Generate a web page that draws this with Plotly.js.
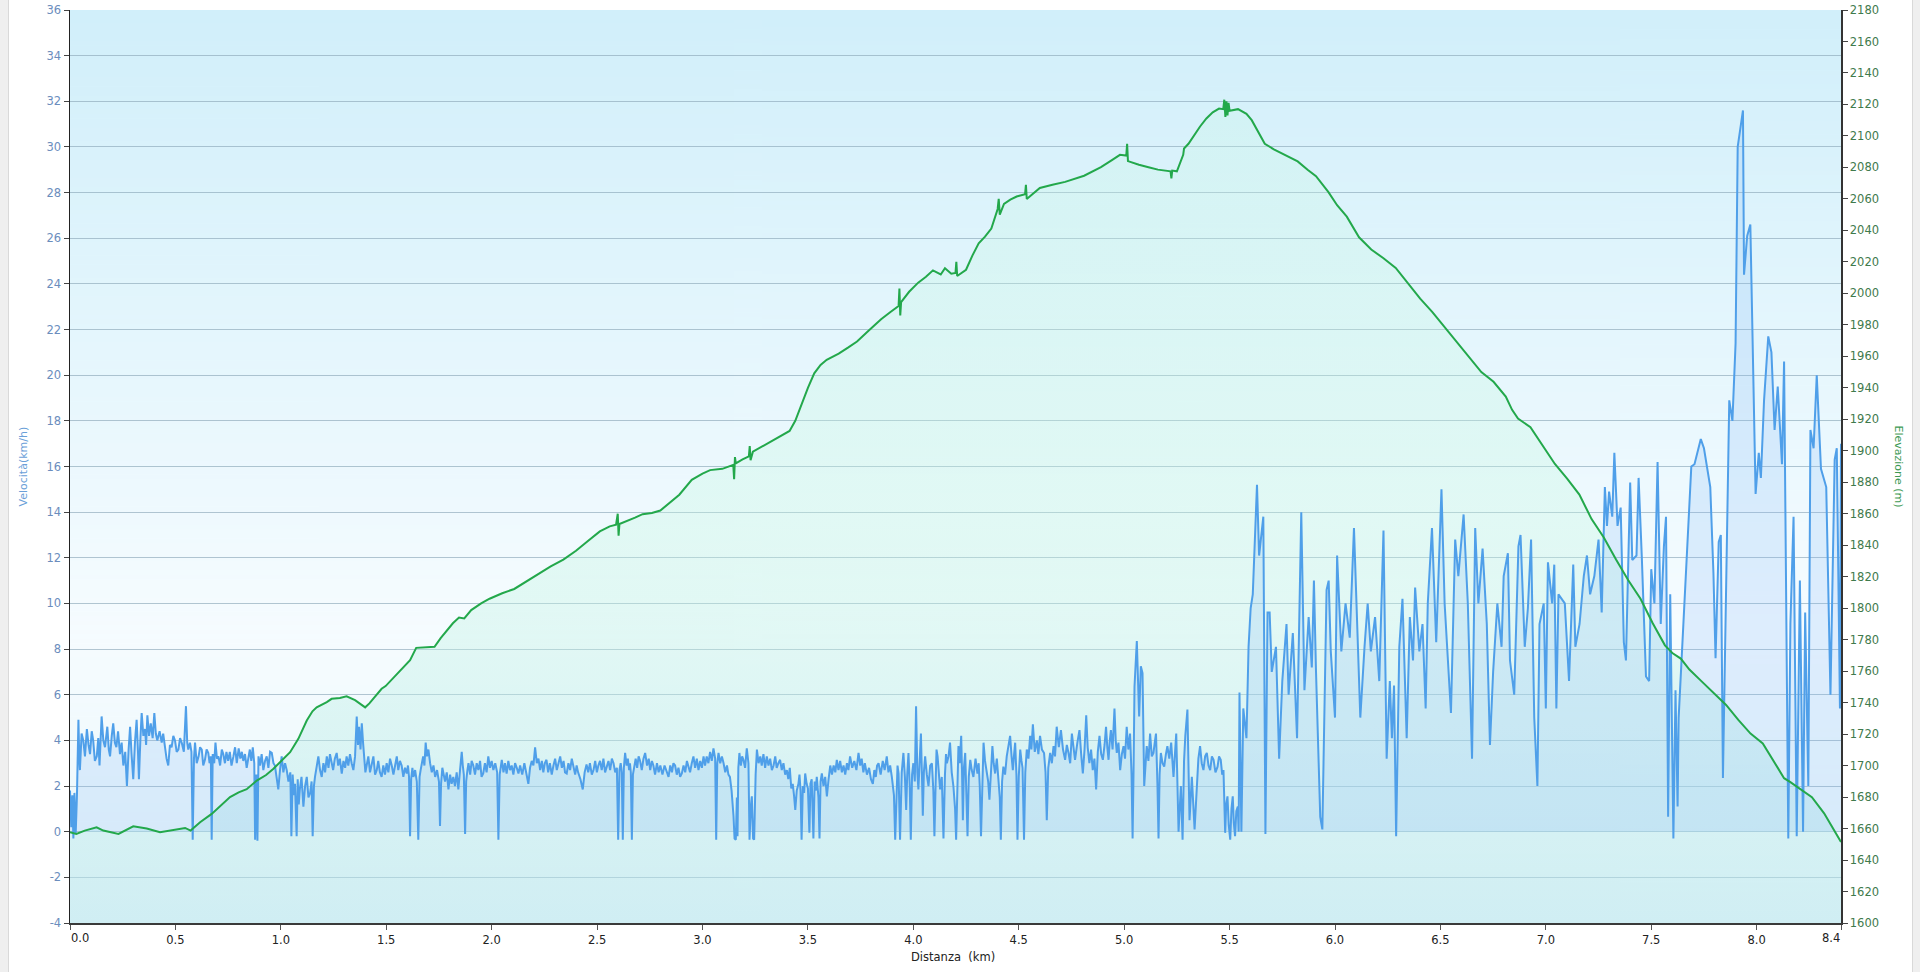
<!DOCTYPE html>
<html>
<head>
<meta charset="utf-8">
<script src="https://cdn.plot.ly/plotly-3.0.1.min.js"></script>
<style>
html,body{margin:0;padding:0;background:#efefef;width:1920px;height:972px;overflow:hidden;}
#frame{position:absolute;left:8px;top:0;width:1903px;height:972px;background:#fff;border-left:1px solid #d9d9d9;border-right:1px solid #d9d9d9;}
#chart{position:absolute;left:0;top:0;width:1920px;height:972px;}
</style>
</head>
<body>
<div id="frame"></div>
<div id="chart"></div>
<script>
// ---- data: [distance km, speed km/h] ----
const speedSamples = [
[0.000,1.8],[0.006,0.2],[0.011,1.6],[0.016,-0.3],[0.021,1.7],[0.027,-0.1],[0.033,1.6],
[0.040,4.9],[0.044,3.2],[0.047,2.7],[0.055,4.3],[0.063,4.0],[0.071,3.3],[0.080,4.5],[0.088,3.8],[0.095,3.4],[0.103,4.4],[0.110,4.0],[0.118,3.1],[0.127,3.3],[0.134,4.1],[0.140,2.9],[0.150,5.05],[0.158,4.0],[0.166,3.7],[0.172,4.3],[0.177,4.6],[0.184,3.6],[0.190,3.3],[0.198,4.2],[0.205,4.75],[0.213,3.9],[0.220,3.7],[0.228,4.4],[0.237,3.4],[0.245,3.9],[0.253,2.9],[0.262,3.5],[0.270,2.0],[0.278,3.6],[0.285,4.6],[0.292,3.4],[0.300,2.3],[0.308,3.9],[0.316,4.9],[0.322,3.6],[0.327,2.3],[0.334,4.1],[0.340,5.2],[0.348,4.2],[0.356,4.5],[0.361,3.8],[0.367,5.1],[0.375,4.2],[0.383,4.75],[0.392,4.1],[0.400,5.2],[0.407,4.3],[0.414,4.0],[0.425,4.4],[0.435,3.9],[0.442,4.3],[0.450,3.65],[0.458,3.2],[0.466,2.9],[0.474,3.8],[0.482,3.7],[0.490,4.2],[0.498,4.0],[0.506,3.5],[0.514,3.6],[0.522,4.1],[0.530,3.9],[0.540,3.5],[0.550,5.5],[0.556,3.9],[0.561,3.6],[0.569,3.9],[0.576,3.5],[0.582,-0.35],[0.588,3.2],
[0.593,3.9],[0.601,3.0],[0.610,3.3],[0.617,3.7],[0.625,3.6],[0.632,2.9],[0.640,3.15],[0.648,3.6],[0.656,3.45],[0.662,3.0],[0.668,3.3],[0.672,-0.35],[0.677,3.4],[0.684,3.0],[0.690,3.9],[0.697,3.2],[0.704,3.3],[0.712,2.9],[0.720,3.6],[0.727,3.4],[0.735,3.0],[0.742,3.5],[0.750,3.1],[0.758,3.5],[0.766,2.9],[0.775,3.3],[0.783,3.7],[0.791,3.0],[0.800,3.65],[0.808,3.2],[0.815,3.5],[0.822,3.1],[0.830,3.4],[0.838,2.8],[0.846,3.2],[0.853,3.6],[0.860,3.1],[0.867,3.7],[0.874,3.0],[0.878,-0.35],[0.884,2.5],[0.889,-0.4],[0.894,3.3],[0.901,2.9],[0.909,3.4],[0.917,2.7],[0.925,3.1],[0.933,3.3],[0.941,2.8],[0.949,3.5],[0.957,3.45],[0.965,3.0],[0.972,2.9],[0.980,2.3],[0.988,1.85],[0.996,2.7],
[1.004,3.3],[1.012,2.6],[1.020,3.0],[1.028,2.7],[1.036,2.2],[1.045,2.6],[1.050,-0.2],[1.056,2.5],[1.062,1.6],[1.067,2.1],[1.071,0.9],[1.075,-0.2],[1.080,2.3],[1.085,1.2],[1.090,1.85],[1.098,2.4],[1.107,1.1],[1.115,2.0],[1.123,2.4],[1.131,1.5],[1.139,1.7],[1.146,2.2],[1.151,-0.2],[1.157,2.0],[1.162,2.4],[1.170,2.9],[1.178,3.3],[1.186,2.7],[1.194,2.4],[1.202,3.0],[1.210,2.6],[1.218,3.3],[1.226,2.8],[1.233,3.4],[1.240,3.1],[1.248,2.7],[1.256,3.2],[1.265,3.45],[1.272,2.9],[1.280,3.2],[1.289,2.55],[1.297,3.1],[1.305,2.8],[1.312,3.3],[1.320,2.9],[1.328,3.4],[1.336,3.0],[1.344,2.7],[1.352,3.3],[1.360,5.05],[1.366,3.8],[1.371,4.6],[1.378,3.6],[1.384,4.75],[1.390,3.9],[1.395,3.3],[1.401,2.6],[1.407,2.9],[1.415,3.3],[1.423,2.6],[1.431,3.0],[1.439,3.3],[1.447,2.5],[1.455,2.7],[1.462,3.1],[1.470,2.6],[1.478,2.4],[1.486,2.9],[1.494,2.5],
[1.502,3.0],[1.510,2.6],[1.518,3.2],[1.526,2.9],[1.534,2.5],[1.542,2.9],[1.550,3.3],[1.557,2.7],[1.565,3.1],[1.573,2.9],[1.581,2.4],[1.589,2.8],[1.597,2.55],[1.603,2.9],[1.608,2.4],[1.613,-0.2],[1.618,2.3],[1.624,2.8],[1.629,2.4],[1.637,2.7],[1.645,2.2],[1.652,-0.35],[1.658,2.4],[1.663,2.7],[1.668,3.0],[1.675,3.3],[1.681,2.9],[1.687,3.9],[1.693,3.3],[1.700,3.6],[1.708,3.0],[1.716,2.6],[1.724,2.9],[1.732,2.4],[1.741,2.7],[1.750,2.2],[1.755,0.25],[1.760,2.1],[1.766,2.8],[1.771,2.55],[1.779,2.2],[1.787,2.6],[1.795,1.85],[1.803,2.5],[1.810,2.1],[1.818,2.4],[1.826,2.0],[1.834,2.6],[1.842,1.85],[1.850,2.7],[1.858,3.5],[1.863,2.9],[1.868,2.5],[1.874,-0.1],[1.879,2.2],[1.885,2.7],[1.890,3.0],[1.898,2.5],[1.905,3.1],[1.913,2.9],[1.921,2.5],[1.929,3.0],[1.937,2.7],[1.945,3.1],[1.952,2.4],[1.960,2.55],[1.968,3.0],[1.976,2.6],[1.984,3.3],[1.992,2.8],
[2.000,3.1],[2.008,2.7],[2.017,3.0],[2.026,2.6],[2.032,-0.35],[2.038,2.5],[2.043,2.9],[2.048,3.15],[2.056,2.6],[2.063,3.0],[2.071,2.55],[2.079,3.1],[2.087,2.7],[2.095,2.9],[2.103,2.5],[2.111,3.0],[2.119,2.8],[2.127,2.55],[2.135,2.9],[2.145,2.5],[2.155,3.0],[2.164,2.6],[2.174,2.1],[2.182,2.8],[2.190,3.1],[2.198,2.9],[2.206,3.7],[2.214,3.0],[2.222,3.2],[2.230,2.7],[2.238,3.1],[2.245,2.6],[2.252,3.0],[2.260,3.15],[2.268,2.6],[2.276,3.0],[2.285,2.5],[2.293,2.9],[2.301,3.2],[2.309,2.7],[2.317,3.0],[2.325,3.3],[2.333,2.8],[2.341,3.1],[2.348,2.6],[2.356,2.55],[2.364,3.0],[2.372,2.7],[2.380,3.2],[2.388,2.9],[2.396,2.5],[2.403,2.9],[2.410,2.6],[2.421,2.3],[2.432,1.85],[2.441,2.6],[2.450,2.95],[2.458,2.6],[2.466,3.0],[2.475,2.5],[2.483,2.7],[2.491,3.1],[2.499,2.6],
[2.506,2.9],[2.514,3.1],[2.522,2.7],[2.530,3.2],[2.538,2.6],[2.546,2.9],[2.554,3.1],[2.562,2.7],[2.570,3.2],[2.578,3.0],[2.586,2.6],[2.594,2.8],[2.600,-0.35],[2.606,2.7],[2.612,3.0],[2.617,2.6],[2.622,-0.35],[2.627,2.8],[2.633,3.45],[2.640,2.9],[2.646,3.2],[2.652,2.7],[2.656,3.0],[2.660,2.6],[2.665,-0.35],[2.670,2.5],[2.676,2.9],[2.683,3.2],[2.690,2.8],[2.697,3.3],[2.704,3.1],[2.712,2.7],[2.720,3.2],[2.728,3.45],[2.737,2.9],[2.745,3.2],[2.752,2.7],[2.760,3.1],[2.767,2.9],[2.775,2.5],[2.784,3.0],[2.792,2.6],[2.800,2.9],[2.810,2.5],[2.820,2.9],[2.830,2.6],[2.839,2.4],[2.847,2.9],[2.855,2.6],[2.862,3.0],[2.870,2.9],[2.878,2.5],[2.886,2.8],[2.894,2.4],[2.902,2.55],[2.910,2.9],[2.918,2.6],[2.926,3.1],[2.933,2.9],[2.941,2.6],[2.949,3.0],[2.957,3.3],[2.965,2.8],[2.973,3.2],[2.981,2.7],[2.989,3.1],[2.997,2.8],
[3.005,3.3],[3.012,2.9],[3.020,3.3],[3.028,3.0],[3.036,3.5],[3.044,3.1],[3.052,3.65],[3.060,3.2],[3.065,-0.35],[3.070,3.0],[3.076,3.45],[3.084,3.0],[3.092,3.3],[3.100,3.0],[3.108,2.6],[3.116,2.9],[3.123,2.5],[3.130,2.4],[3.138,1.8],[3.147,0.7],[3.152,-0.3],[3.158,-0.35],[3.163,1.5],[3.166,-0.2],[3.170,2.8],[3.175,3.45],[3.182,2.9],[3.188,3.3],[3.194,3.15],[3.202,2.8],[3.210,3.65],[3.218,3.0],[3.223,-0.35],[3.230,1.2],[3.234,1.55],[3.240,-0.3],[3.245,-0.35],[3.252,2.5],[3.258,3.6],[3.266,3.0],[3.274,3.3],[3.281,2.9],[3.289,3.4],[3.297,2.8],[3.305,3.3],[3.313,2.9],[3.321,3.2],[3.329,2.7],[3.337,2.9],[3.345,3.3],[3.352,2.8],[3.360,3.0],[3.368,3.15],[3.376,2.7],[3.384,3.0],[3.392,2.5],[3.400,2.7],[3.407,2.3],[3.414,2.8],[3.421,1.9],[3.428,2.1],[3.434,1.6],[3.440,0.95],[3.447,1.8],[3.455,2.1],[3.460,2.5],[3.465,1.8],[3.470,-0.35],[3.476,2.0],[3.482,1.7],[3.487,2.55],[3.494,2.1],
[3.500,1.9],[3.507,-0.05],[3.512,2.1],[3.518,2.3],[3.522,1.0],[3.526,-0.3],[3.532,2.2],[3.537,1.8],[3.542,2.4],[3.546,2.0],[3.550,1.5],[3.555,-0.3],[3.560,2.2],[3.566,2.55],[3.574,2.0],[3.582,2.4],[3.590,1.55],[3.598,2.3],[3.606,2.9],[3.614,2.5],[3.622,2.9],[3.630,2.6],[3.637,3.15],[3.645,2.7],[3.653,3.1],[3.661,2.6],[3.669,2.9],[3.677,2.5],[3.685,3.0],[3.692,2.7],[3.700,3.3],[3.710,2.8],[3.720,3.1],[3.730,2.7],[3.740,3.45],[3.748,2.9],[3.755,3.2],[3.763,2.6],[3.770,3.0],[3.780,2.5],[3.790,2.8],[3.799,2.3],[3.808,2.1],[3.815,2.7],[3.822,2.4],[3.828,2.9],[3.835,3.0],[3.845,2.5],[3.855,3.1],[3.864,2.7],[3.874,3.3],[3.882,2.6],[3.890,2.9],[3.898,2.4],[3.908,1.6],[3.914,-0.35],[3.920,2.0],[3.925,2.9],[3.930,2.55],[3.934,1.2],[3.937,-0.35],[3.945,2.6],[3.953,3.45],[3.960,2.4],[3.966,0.95],[3.971,2.5],[3.977,3.45],[3.983,2.0],[3.988,-0.35],[3.994,2.5],
[4.000,3.0],[4.007,2.2],[4.013,5.5],[4.019,2.6],[4.024,1.85],[4.030,3.1],[4.036,4.3],[4.041,2.4],[4.045,0.7],[4.050,2.6],[4.056,3.3],[4.064,2.5],[4.072,2.0],[4.080,2.9],[4.088,3.0],[4.095,1.8],[4.100,-0.2],[4.106,2.2],[4.110,3.6],[4.115,3.3],[4.121,2.4],[4.127,1.85],[4.135,2.4],[4.143,-0.3],[4.150,2.5],[4.155,3.4],[4.159,3.0],[4.167,3.3],[4.174,3.9],[4.182,2.6],[4.190,2.0],[4.198,1.0],[4.203,-0.35],[4.209,2.8],[4.214,3.75],[4.220,3.0],[4.227,4.2],[4.231,2.6],[4.235,0.5],[4.240,2.8],[4.246,3.45],[4.252,1.5],[4.257,-0.2],[4.263,2.4],[4.270,3.15],[4.277,2.7],[4.285,2.4],[4.295,3.2],[4.304,2.55],[4.310,3.0],[4.315,2.0],[4.321,-0.2],[4.327,2.6],[4.333,3.9],[4.340,3.1],[4.348,2.7],[4.355,2.2],[4.361,1.4],[4.368,2.8],[4.375,3.75],[4.381,3.0],[4.388,2.55],[4.396,3.2],[4.404,2.3],[4.410,1.5],[4.415,-0.35],[4.421,2.2],[4.427,2.85],[4.435,2.5],[4.443,3.3],[4.451,3.7],[4.459,4.2],[4.466,3.3],[4.472,2.7],[4.478,3.4],[4.483,3.9],[4.489,2.5],[4.494,-0.35],
[4.500,2.4],[4.507,3.6],[4.513,3.1],[4.518,2.8],[4.525,-0.35],[4.531,2.6],[4.538,3.6],[4.546,3.2],[4.554,4.2],[4.560,3.6],[4.567,4.7],[4.576,3.5],[4.586,4.0],[4.593,3.4],[4.601,4.2],[4.610,3.6],[4.620,3.45],[4.627,2.6],[4.633,0.5],[4.640,2.8],[4.649,3.45],[4.657,3.0],[4.665,3.75],[4.672,3.3],[4.680,4.6],[4.690,3.7],[4.700,4.45],[4.710,3.6],[4.720,3.15],[4.728,3.8],[4.736,3.45],[4.744,3.0],[4.752,4.3],[4.760,3.5],[4.767,3.15],[4.778,3.9],[4.788,4.45],[4.796,3.4],[4.804,2.55],[4.812,3.6],[4.820,5.1],[4.827,3.7],[4.835,3.0],[4.843,3.6],[4.851,2.7],[4.859,3.2],[4.867,1.85],[4.875,3.5],[4.883,4.2],[4.891,3.4],[4.899,3.15],[4.907,3.8],[4.914,4.6],[4.920,3.7],[4.926,3.15],[4.931,3.9],[4.937,4.45],[4.945,3.6],[4.954,5.4],[4.960,4.0],[4.965,3.45],[4.973,3.9],[4.981,2.7],[4.989,3.4],[4.997,3.75],
[5.004,3.2],[5.012,4.6],[5.020,3.6],[5.028,4.3],[5.035,2.5],[5.040,-0.3],[5.045,3.0],[5.049,6.35],[5.060,8.35],[5.071,5.05],[5.079,7.25],[5.087,6.95],[5.095,2.0],[5.101,3.2],[5.107,3.75],[5.115,3.1],[5.123,4.3],[5.131,3.3],[5.139,3.45],[5.145,3.9],[5.151,4.3],[5.158,2.0],[5.163,-0.3],[5.168,2.5],[5.174,3.45],[5.182,3.0],[5.190,2.85],[5.198,3.4],[5.205,3.75],[5.214,3.2],[5.223,3.9],[5.234,2.4],[5.240,3.3],[5.247,4.3],[5.258,0.0],[5.269,2.0],[5.277,-0.35],[5.284,3.1],[5.290,4.2],[5.300,5.35],[5.310,0.5],[5.321,2.4],[5.334,0.1],[5.345,2.3],[5.352,3.2],[5.360,3.75],[5.368,3.0],[5.376,2.7],[5.384,3.3],[5.392,3.45],[5.400,2.9],[5.408,2.7],[5.416,3.3],[5.424,3.15],[5.433,2.6],[5.443,2.85],[5.450,3.3],[5.458,3.15],[5.465,2.5],[5.471,2.7],[5.479,-0.05],[5.484,1.2],[5.490,1.55],[5.496,0.3],[5.503,-0.35],[5.509,1.0],[5.515,1.55],[5.520,0.4],[5.526,-0.2],[5.532,0.9],[5.539,1.1],[5.543,0.0],[5.547,6.1],
[5.556,0.0],[5.565,5.4],[5.580,4.1],[5.590,8.1],[5.600,9.8],[5.610,10.4],[5.630,15.2],[5.640,12.1],[5.660,13.8],[5.670,-0.1],[5.680,9.6],[5.690,9.6],[5.700,7.0],[5.720,8.1],[5.735,3.2],[5.750,6.6],[5.770,9.1],[5.780,6.0],[5.800,8.7],[5.820,4.1],[5.840,14.0],[5.855,6.2],[5.875,9.4],[5.890,7.2],[5.900,11.0],[5.910,7.0],[5.930,0.65],[5.940,0.1],[5.960,10.6],[5.970,11.0],[5.980,7.9],
[6.000,5.0],[6.010,12.1],[6.030,7.9],[6.050,10.0],[6.070,8.5],[6.090,13.3],[6.120,5.0],[6.140,8.1],[6.155,10.0],[6.170,7.9],[6.190,9.4],[6.210,6.6],[6.230,13.2],[6.245,3.2],[6.260,6.6],[6.270,4.1],[6.280,6.4],[6.290,-0.2],[6.305,8.1],[6.320,10.2],[6.340,4.1],[6.355,9.4],[6.370,7.5],[6.380,10.7],[6.400,7.9],[6.415,9.1],[6.430,5.4],[6.440,10.0],[6.460,13.3],[6.480,8.3],[6.505,15.0],[6.520,10.0],[6.550,5.2],[6.570,12.8],[6.585,11.2],[6.610,13.9],[6.630,10.0],[6.650,3.2],[6.665,13.3],[6.680,10.0],[6.700,12.4],[6.720,9.1],[6.735,3.8],[6.750,7.0],[6.770,10.0],[6.790,8.1],[6.800,11.2],[6.820,12.2],[6.830,7.5],[6.850,6.0],[6.870,12.5],[6.880,13.0],[6.900,8.1],[6.915,9.8],[6.930,12.8],[6.945,5.0],[6.960,2.0],[6.970,9.1],[6.990,10.0],
[7.000,5.4],[7.010,11.8],[7.030,10.0],[7.040,11.7],[7.050,5.4],[7.060,10.4],[7.090,10.0],[7.110,6.6],[7.130,11.7],[7.140,8.1],[7.160,9.1],[7.180,11.2],[7.195,12.1],[7.210,10.4],[7.230,11.2],[7.250,12.8],[7.265,9.6],[7.280,15.1],[7.290,13.4],[7.300,14.9],[7.315,13.8],[7.325,16.6],[7.340,13.4],[7.355,14.2],[7.370,8.3],[7.380,7.5],[7.400,15.3],[7.410,11.9],[7.430,12.1],[7.440,15.5],[7.455,12.1],[7.475,6.8],[7.490,6.6],[7.500,11.5],[7.515,10.0],[7.530,16.2],[7.545,9.1],[7.560,12.5],[7.570,13.8],[7.580,0.65],[7.590,10.4],[7.605,-0.3],[7.615,6.2],[7.625,1.1],[7.630,5.0],[7.650,8.9],[7.670,12.7],[7.690,16.0],[7.705,16.1],[7.735,17.2],[7.750,16.8],[7.780,15.1],[7.795,11.3],[7.805,7.6],[7.820,12.7],[7.830,13.0],[7.840,2.35],[7.855,10.8],[7.870,18.9],[7.885,18.0],[7.900,21.4],[7.910,30.0],[7.935,31.6],[7.940,24.4],[7.955,26.1],[7.970,26.6],[7.980,21.4],[7.995,14.8],
[8.010,16.6],[8.020,15.5],[8.035,18.9],[8.055,21.7],[8.070,21.0],[8.085,17.6],[8.100,19.5],[8.120,16.1],[8.130,20.6],[8.140,9.1],[8.150,-0.3],[8.160,9.1],[8.175,13.8],[8.190,-0.2],[8.205,11.0],[8.220,0.0],[8.230,9.6],[8.245,2.0],[8.255,17.6],[8.270,16.8],[8.285,20.0],[8.305,15.9],[8.330,15.1],[8.350,6.0],[8.370,16.3],[8.380,16.8],[8.395,5.4],[8.400,17.0]
];

// ---- [distance km, elevation m] ----
const elevSamples = [
[0.000,1657.7],[0.030,1656.6],[0.070,1658.7],[0.126,1660.8],[0.158,1658.7],[0.230,1656.6],[0.300,1661.4],[0.364,1660.0],[0.427,1657.7],[0.506,1659.8],[0.546,1660.4],[0.572,1658.7],[0.617,1664.0],[0.672,1669.3],[0.720,1675.0],[0.759,1680.0],[0.800,1683.0],[0.838,1685.0],[0.886,1690.5],[0.930,1694.0],[0.965,1698.0],[1.005,1703.0],[1.044,1708.5],[1.083,1717.0],[1.123,1728.6],[1.150,1734.5],[1.170,1737.0],[1.218,1740.3],[1.241,1742.4],[1.280,1743.0],[1.312,1744.0],[1.352,1741.6],[1.400,1737.0],[1.420,1739.5],[1.439,1742.4],[1.478,1748.8],[1.497,1750.5],[1.555,1758.5],[1.613,1767.0],[1.642,1774.8],[1.690,1775.0],[1.729,1775.5],[1.758,1781.0],[1.816,1790.4],[1.845,1794.0],[1.870,1793.5],[1.903,1798.8],[1.950,1803.0],[1.990,1806.0],
[2.050,1809.5],[2.107,1812.2],[2.165,1817.0],[2.223,1821.5],[2.280,1826.5],[2.340,1830.8],[2.400,1836.5],[2.455,1842.5],[2.513,1848.8],[2.560,1852.0],[2.590,1853.0],[2.598,1860.0],[2.602,1846.0],[2.606,1853.5],[2.637,1855.0],[2.680,1857.5],[2.716,1859.7],[2.760,1860.5],[2.800,1862.0],[2.850,1867.5],[2.890,1872.1],[2.949,1881.5],[3.000,1885.5],[3.036,1887.7],[3.094,1888.5],[3.146,1891.0],[3.150,1882.0],[3.154,1896.0],[3.158,1892.0],[3.190,1894.5],[3.220,1896.5],[3.224,1903.0],[3.228,1894.0],[3.239,1899.4],[3.280,1902.5],[3.326,1905.6],[3.370,1909.0],[3.413,1912.6],[3.440,1919.0],[3.471,1930.5],[3.500,1940.0],[3.530,1949.2],[3.560,1954.5],[3.589,1957.8],[3.646,1961.7],[3.690,1965.5],[3.733,1969.4],[3.790,1976.5],[3.847,1983.5],[3.890,1988.0],[3.930,1992.0],[3.934,2003.0],[3.938,1986.0],[3.942,1994.4],[3.980,2001.0],
[4.023,2006.8],[4.060,2010.5],[4.093,2014.6],[4.130,2012.0],[4.150,2016.0],[4.180,2012.5],[4.200,2013.0],[4.204,2020.0],[4.208,2011.0],[4.250,2015.0],[4.280,2024.0],[4.310,2031.8],[4.340,2036.0],[4.370,2041.2],[4.400,2053.6],[4.405,2060.0],[4.410,2050.0],[4.430,2056.8],[4.460,2059.5],[4.490,2061.5],[4.530,2063.0],[4.534,2069.0],[4.538,2060.0],[4.600,2066.9],[4.660,2069.0],[4.720,2070.8],[4.810,2074.7],[4.890,2080.2],[4.940,2084.5],[4.980,2088.0],[5.010,2087.5],[5.014,2095.0],[5.018,2084.0],[5.070,2081.7],[5.120,2080.0],[5.160,2078.6],[5.220,2077.5],[5.224,2073.0],[5.228,2078.0],[5.250,2077.5],[5.280,2088.0],[5.284,2092.0],[5.305,2095.0],[5.330,2100.2],[5.360,2106.0],[5.390,2111.1],[5.420,2115.0],[5.450,2117.4],[5.470,2117.0],[5.475,2123.0],[5.480,2112.0],[5.485,2122.0],[5.490,2113.0],[5.495,2121.0],[5.500,2116.0],[5.540,2117.0],[5.580,2114.0],[5.605,2110.0],[5.640,2101.0],[5.667,2095.0],[5.710,2091.5],[5.765,2087.7],[5.823,2083.8],[5.870,2078.5],[5.910,2074.4],[5.969,2064.3],
[6.010,2056.0],[6.056,2048.7],[6.114,2035.6],[6.172,2027.8],[6.230,2022.3],[6.288,2016.1],[6.346,2006.7],[6.404,1996.6],[6.462,1988.1],[6.520,1978.7],[6.578,1969.4],[6.636,1960.1],[6.694,1950.0],[6.752,1943.8],[6.810,1934.4],[6.840,1926.0],[6.868,1920.4],[6.927,1915.0],[6.985,1903.3],[7.043,1891.6],[7.101,1882.3],[7.159,1872.2],[7.217,1856.6],[7.275,1844.9],[7.333,1830.9],[7.391,1817.7],[7.449,1806.0],[7.507,1790.4],[7.565,1776.4],[7.600,1771.5],[7.640,1768.0],[7.681,1761.0],[7.739,1753.5],[7.797,1746.3],[7.855,1738.5],[7.913,1729.0],[7.971,1720.3],[8.029,1714.1],[8.087,1701.0],[8.130,1692.0],[8.160,1689.5],[8.203,1685.3],[8.262,1679.9],[8.320,1669.7],[8.360,1660.5],[8.400,1651.5]
];

const distTickVals = [0,0.5,1,1.5,2,2.5,3,3.5,4,4.5,5,5.5,6,6.5,7,7.5,8,8.4];
const distTickText = ['0.0','0.5','1.0','1.5','2.0','2.5','3.0','3.5','4.0','4.5','5.0','5.5','6.0','6.5','7.0','7.5','8.0','8.4'];
const speedTickVals = [-4,-2,0,2,4,6,8,10,12,14,16,18,20,22,24,26,28,30,32,34,36];
const speedTickText = ['-4','-2','0','2','4','6','8','10','12','14','16','18','20','22','24','26','28','30','32','34','36'];
const elevTickVals = [1600,1620,1640,1660,1680,1700,1720,1740,1760,1780,1800,1820,1840,1860,1880,1900,1920,1940,1960,1980,2000,2020,2040,2060,2080,2100,2120,2140,2160,2180];
const elevTickText = elevTickVals.map(String);

const labels = {x:'Distanza  (km)', y:'Velocità(km/h)', y2:'Elevazione (m)'};

const speedKm = speedSamples.map(p => p[0]);
const speedKmh = speedSamples.map(p => p[1]);
const elevKm = elevSamples.map(p => p[0]);
const elevM = elevSamples.map(p => p[1]);

// ---- background gradient (plot area) ----
const cv = document.createElement('canvas');
cv.width = 4; cv.height = 400;
const cx = cv.getContext('2d');
const g = cx.createLinearGradient(0,0,0,400);
g.addColorStop(0,'#d1effa');
g.addColorStop(0.35,'#e4f6fd');
g.addColorStop(0.68,'#f6fcff');
g.addColorStop(1,'#eaf7fb');
cx.fillStyle = g; cx.fillRect(0,0,4,400);
const bgURL = cv.toDataURL();

const FONT = 'DejaVu Sans, Verdana, sans-serif';

// x-axis end labels are nudged inward as in the reference
const xTickTextShown = distTickText.map((t,i) => (i === 0 || i === distTickText.length-1) ? '' : t);

const traces = [
  { // elevation area (bottom layer)
    x: elevKm, y: elevM, type:'scatter', mode:'lines', xaxis:'x', yaxis:'y',
    line:{width:0, color:'rgba(0,0,0,0)'},
    fill:'tozeroy',
    fillgradient:{type:'vertical', start:1600, stop:2125,
      colorscale:[[0,'rgba(182,229,236,0.5)'],[0.5,'rgba(196,247,224,0.32)'],[1,'rgba(200,247,228,0.26)']]},
    fillcolor:'rgba(190,245,222,0.3)',
    hoverinfo:'skip'
  },
  { // speed
    x: speedKm, y: speedKmh, type:'scatter', mode:'lines', xaxis:'x', yaxis:'y2',
    line:{color:'#4f9fe9', width:2},
    fill:'tozeroy', fillcolor:'rgba(125,182,245,0.2)',
    hoverinfo:'skip'
  },
  { // elevation line (top layer)
    x: elevKm, y: elevM, type:'scatter', mode:'lines', xaxis:'x', yaxis:'y3',
    line:{color:'#23a84b', width:2},
    hoverinfo:'skip'
  }
];

const layout = {
  width:1920, height:972,
  margin:{l:70, r:79, t:10, b:49},
  paper_bgcolor:'rgba(0,0,0,0)',
  plot_bgcolor:'rgba(0,0,0,0)',
  showlegend:false,
  font:{family:FONT, size:11, color:'#333'},
  images:[{source:bgURL, xref:'paper', yref:'paper', x:0, y:1, sizex:1, sizey:1,
           sizing:'stretch', xanchor:'left', yanchor:'top', layer:'below'}],
  xaxis:{
    range:[0,8.4], tickmode:'array', tickvals:distTickVals, ticktext:xTickTextShown,
    showgrid:false, zeroline:false, showline:true, linecolor:'#3a3a3a', linewidth:2,
    ticks:'outside', ticklen:5, tickcolor:'#555', tickwidth:1,
    tickfont:{family:FONT, size:11.5, color:'#222'}
  },
  yaxis:{ // elevation (right side, visible ticks)
    range:[1600,2180], side:'right', tickmode:'array',
    tickvals:elevTickVals, ticktext:elevTickText,
    showgrid:false, zeroline:false, showline:true, linecolor:'#333', linewidth:1.5,
    ticks:'outside', ticklen:5, tickcolor:'#444',
    tickfont:{family:FONT, size:11.5, color:'#3f7a4c'}
  },
  yaxis2:{ // speed (left side)
    range:[-4,36], overlaying:'y', side:'left', tickmode:'array',
    tickvals:speedTickVals, ticktext:speedTickText,
    showgrid:true, gridcolor:'rgba(140,168,185,0.65)', gridwidth:1,
    zeroline:false, showline:true, linecolor:'#222', linewidth:1.5,
    ticks:'outside', ticklen:5, tickcolor:'#444',
    tickfont:{family:FONT, size:11.5, color:'#6b8dbd'}
  },
  yaxis3:{ // elevation line layer, same scale as yaxis
    range:[1600,2180], overlaying:'y', side:'right', visible:false,
    showgrid:false, zeroline:false
  },
  annotations:[
    {text:labels.y, xref:'paper', yref:'paper', x:0, y:0.5, xanchor:'center', yanchor:'middle',
     xshift:-47, textangle:-90, showarrow:false, font:{family:FONT, size:11, color:'#6aa0d8'}},
    {text:labels.y2, xref:'paper', yref:'paper', x:1, y:0.5, xanchor:'center', yanchor:'middle',
     xshift:57, textangle:90, showarrow:false, font:{family:FONT, size:11, color:'#3e9a55'}},
    {text:labels.x, xref:'paper', yref:'paper', x:0.5, y:0, xanchor:'center', yanchor:'middle',
     xshift:-3, yshift:-34, showarrow:false, font:{family:FONT, size:11.5, color:'#222'}},
    {text:distTickText[0], xref:'x', yref:'paper', x:distTickVals[0], y:0, xanchor:'center', yanchor:'middle',
     xshift:10, yshift:-15, showarrow:false, font:{family:FONT, size:11.5, color:'#222'}},
    {text:distTickText[distTickText.length-1], xref:'x', yref:'paper', x:distTickVals[distTickVals.length-1], y:0,
     xanchor:'center', yanchor:'middle', xshift:-10, yshift:-15, showarrow:false, font:{family:FONT, size:11.5, color:'#222'}}
  ]
};

Plotly.newPlot('chart', traces, layout, {staticPlot:true, displayModeBar:false});
</script>
</body>
</html>
